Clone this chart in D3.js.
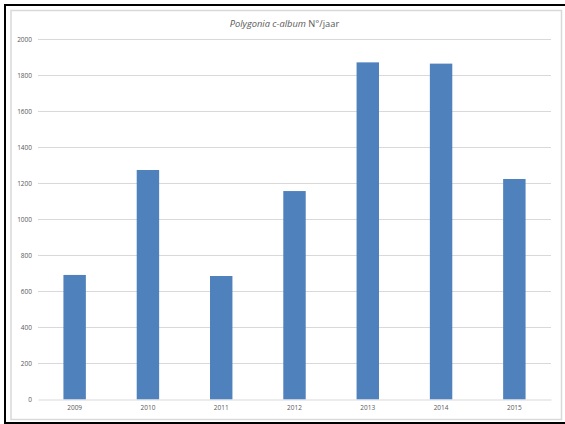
<!DOCTYPE html>
<html>
<head>
<meta charset="utf-8">
<script src="https://cdn.jsdelivr.net/npm/d3@7"></script>
<style>
  html, body { margin: 0; padding: 0; background: #fff; }
  svg { display: block; }
</style>
</head>
<body>
<svg id="chart" width="565" height="424"></svg>
<script>
const categories = ["2009", "2010", "2011", "2012", "2013", "2014", "2015"];
const values = [692, 1275, 686, 1158, 1873, 1866, 1225];
const yTicks = [0, 200, 400, 600, 800, 1000, 1200, 1400, 1600, 1800, 2000];
const titleItalic = "Polygonia c-album";
const titleNormal = " N°/jaar";

const svg = d3.select("#chart");
const W = 565, H = 424;
const plot = { left: 38, right: 551, top: 39.5, bottom: 399.5 };
const font = "'Open Sans', 'Noto Sans', sans-serif";

// outer frame
svg.append("rect").attr("x", 5).attr("y", 5).attr("width", 600).attr("height", 418)
  .attr("fill", "#fff").attr("stroke", "#000").attr("stroke-width", 2);
// chart area border
svg.append("rect").attr("x", 11).attr("y", 10.5).attr("width", 550.5).attr("height", 409)
  .attr("fill", "#fff").attr("stroke", "#d9d9d9").attr("stroke-width", 1.5);

const x = d3.scaleBand().domain(categories).range([plot.left, plot.right])
  .paddingInner(0.694).paddingOuter(0.347);
const y = d3.scaleLinear().domain([0, 2000]).range([plot.bottom, plot.top]);

// gridlines
svg.append("g").selectAll("line").data(yTicks.filter(d => d > 0)).join("line")
  .attr("x1", plot.left).attr("x2", plot.right)
  .attr("y1", d => y(d)).attr("y2", d => y(d))
  .attr("stroke", "#d9d9d9").attr("stroke-width", 1);

// y axis labels
const yAxis = d3.axisLeft(y).tickValues(yTicks).tickSize(0).tickPadding(6).tickFormat(d3.format("d"));
const gy = svg.append("g").attr("transform", `translate(${plot.left},0)`).call(yAxis);
gy.select(".domain").remove();
gy.selectAll("text").attr("font-family", font).attr("font-size", 6.5).attr("fill", "#595959");

// bars
svg.append("g").selectAll("rect").data(values).join("rect")
  .attr("x", (d, i) => x(categories[i]))
  .attr("width", x.bandwidth())
  .attr("y", d => y(d))
  .attr("height", d => y(0) - y(d))
  .attr("fill", "#4f81bd");

// x axis
const xAxis = d3.axisBottom(x).tickSize(0).tickPadding(6);
const gx = svg.append("g").attr("transform", `translate(0,${plot.bottom})`).call(xAxis);
gx.select(".domain").attr("stroke", "#d9d9d9").attr("stroke-width", 1.2);
gx.selectAll("text").attr("font-family", font).attr("font-size", 6.5).attr("fill", "#595959");

// title
const t = svg.append("text").attr("x", 284.5).attr("y", 26.5).attr("text-anchor", "middle")
  .attr("font-family", font).attr("font-size", 9.3).attr("fill", "#595959");
t.append("tspan").attr("font-style", "italic").text(titleItalic);
t.append("tspan").text(titleNormal);
</script>
</body>
</html>
